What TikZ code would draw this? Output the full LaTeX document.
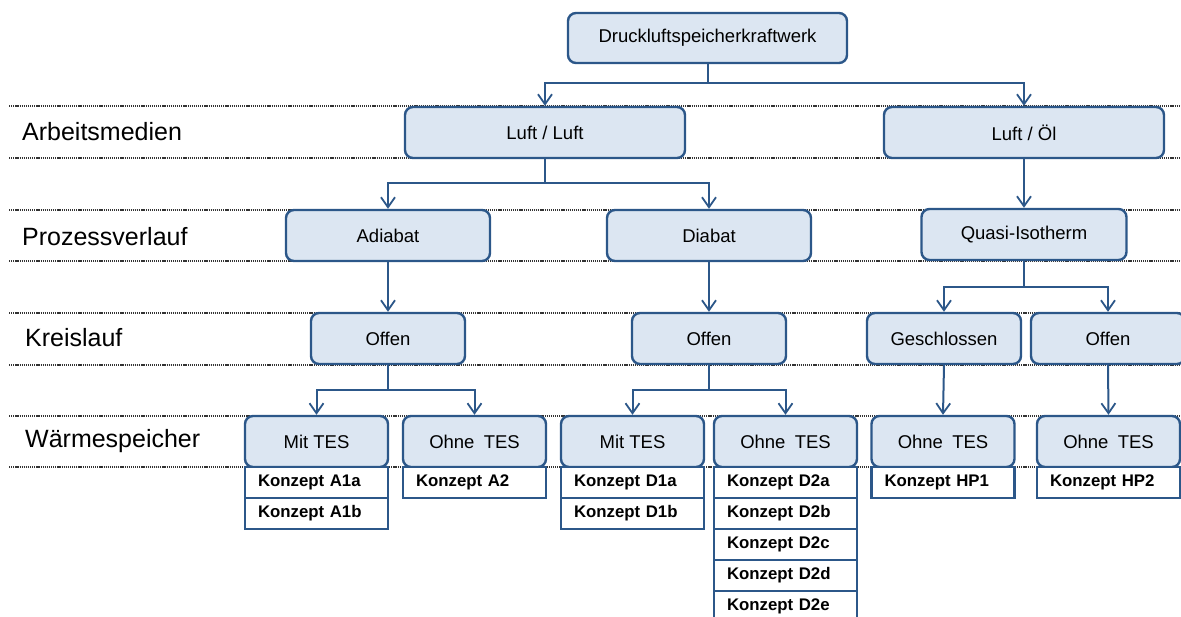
\documentclass[tikz,border=0pt]{standalone}
\usepackage{fontspec}
\setmainfont{Liberation Sans}
\usetikzlibrary{arrows.meta}
\definecolor{bord}{HTML}{2C5789}
\definecolor{boxfill}{HTML}{DCE6F2}
\definecolor{dotc}{HTML}{333333}
\begin{document}
\begin{tikzpicture}[x=1pt,y=-1pt,
  box/.style={draw=bord, fill=boxfill, line width=2.4pt, rounded corners=8pt,
    minimum height=51pt, inner sep=0pt, font=\fontsize{18.5}{20}\selectfont},
  kbox/.style={draw=bord, fill=white, line width=2.4pt, minimum height=31pt,
    inner xsep=13pt, inner ysep=0pt, text width=117pt, align=left,
    font=\fontsize{16.8}{18}\selectfont\bfseries},
  rowlab/.style={anchor=west, inner sep=0pt, font=\fontsize{25}{27}\selectfont},
  conn/.style={draw=bord, line width=2pt, -{Straight Barb[length=10pt,width=14pt,line width=1.8pt]}},
  dotline/.style={draw=dotc, line width=1.2pt, dash pattern=on 1.2pt off 0.9pt}]
\useasboundingbox (0,0) rectangle (1181,616);
% dotted row lines
\foreach \yy in {106,158,210,261,313,365,416,467}
  \draw[dotline] (9,\yy) -- (1181,\yy);
% row labels
\node[rowlab] (l1) at (22,132) {Arbeitsmedien};
\node[rowlab] (l2) at (22,237) {Prozessverlauf};
\node[rowlab] (l3) at (25,338) {Kreislauf};
\node[rowlab] (l4) at (25,441) {Wärmespeicher};
% main boxes
\node[box, minimum width=279pt, minimum height=50pt] (top) at (707.5,38) {Druckluftspeicherkraftwerk};
\node[box, minimum width=280pt] (ll) at (545,132.5) {Luft / Luft};
\node[box, minimum width=280pt] (lo) at (1024,132.5) {Luft / Öl};
\node[box, minimum width=204pt] (ad) at (388,235.5) {Adiabat};
\node[box, minimum width=204pt] (di) at (709,235.5) {Diabat};
\node[box, minimum width=205pt] (qi) at (1024,234.5) {Quasi-Isotherm};
\node[box, minimum width=154pt] (oa) at (388,338.5) {Offen};
\node[box, minimum width=154pt] (od) at (709,338.5) {Offen};
\node[box, minimum width=154pt] (ge) at (944,338.5) {Geschlossen};
\node[box, minimum width=154pt] (or) at (1108,338.5) {Offen};
\node[box, minimum width=143pt] (ma) at (316.5,441.5) {Mit TES};
\node[box, minimum width=143pt] (oha) at (474.5,441.5) {Ohne\hspace{0.5em}TES};
\node[box, minimum width=143pt] (md) at (632.5,441.5) {Mit TES};
\node[box, minimum width=143pt] (ohd) at (785.5,441.5) {Ohne\hspace{0.5em}TES};
\node[box, minimum width=143pt] (oh1) at (943,441.5) {Ohne\hspace{0.5em}TES};
\node[box, minimum width=143pt] (oh2) at (1108.5,441.5) {Ohne\hspace{0.5em}TES};
% concept boxes
\node[kbox] (a1a) at (316.5,482.5) {Konzept A1a};
\node[kbox] (a1b) at (316.5,513.5) {Konzept A1b};
\node[kbox] (a2) at (474.5,482.5) {Konzept A2};
\node[kbox] (d1a) at (632.5,482.5) {Konzept D1a};
\node[kbox] (d1b) at (632.5,513.5) {Konzept D1b};
\node[kbox] (d2a) at (785.5,482.5) {Konzept D2a};
\node[kbox] (d2b) at (785.5,513.5) {Konzept D2b};
\node[kbox] (d2c) at (785.5,544.5) {Konzept D2c};
\node[kbox] (d2d) at (785.5,575.5) {Konzept D2d};
\node[kbox] (d2e) at (785.5,606.5) {Konzept D2e};
\node[kbox] (hp1) at (943,482.5) {Konzept HP1};
\node[kbox] (hp2) at (1108.5,482.5) {Konzept HP2};
% junctions
\coordinate (j1) at (707.5,83);
\coordinate (j2) at (545,183);
\coordinate (j3) at (1024,287);
\coordinate (j4) at (388,390);
\coordinate (j5) at (709,390);
% connectors
\draw[conn] (top.south) -- (j1) -| (ll.north);
\draw[conn] (j1) -| (lo.north);
\draw[conn] (ll.south) -- (j2) -| (ad.north);
\draw[conn] (j2) -| (di.north);
\draw[conn] (lo.south) -- (qi.north);
\draw[conn] (ad.south) -- (oa.north);
\draw[conn] (di.south) -- (od.north);
\draw[conn] (qi.south) -- (j3) -| (ge.north);
\draw[conn] (j3) -| (or.north);
\draw[conn] (oa.south) -- (j4) -| (ma.north);
\draw[conn] (j4) -| (oha.north);
\draw[conn] (od.south) -- (j5) -| (md.north);
\draw[conn] (j5) -| (ohd.north);
\draw[conn] (ge.south) -- (oh1.north);
\draw[conn] (or.south) -- (oh2.north);
\end{tikzpicture}
\end{document}
